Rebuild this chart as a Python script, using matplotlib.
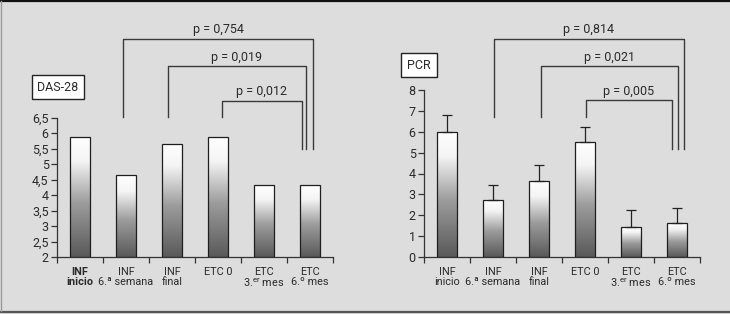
import matplotlib
matplotlib.use('Agg')
import matplotlib.pyplot as plt
import numpy as np
from matplotlib import transforms
from matplotlib.colors import LinearSegmentedColormap
from matplotlib.lines import Line2D
from matplotlib.patches import Rectangle

FONT = ['Roboto', 'DejaVu Sans']
plt.rcParams['font.family'] = FONT
plt.rcParams['mathtext.fontset'] = 'custom'
plt.rcParams['mathtext.rm'] = 'Roboto'
plt.rcParams['mathtext.it'] = 'Roboto:italic'
plt.rcParams['mathtext.bf'] = 'Roboto:bold'

# ---------------- data ----------------
categories = ['INF\ninicio', 'INF\n6.ª semana', 'INF\nfinal', 'ETC 0',
              'ETC\n3.$^{\\mathrm{er}}$ mes', 'ETC\n6.º mes']

das28_values = [5.88, 4.65, 5.66, 5.88, 4.32, 4.32]
das28_yticks = [2, 2.5, 3, 3.5, 4, 4.5, 5, 5.5, 6, 6.5]
das28_yticklabels = ['2', '2,5', '3', '3,5', '4', '4,5', '5', '5,5', '6', '6,5']
das28_pairs = [(1, 5), (2, 5), (3, 5)]
das28_pvals = ['p = 0,754', 'p = 0,019', 'p = 0,012']

pcr_values = [6.0, 2.75, 3.62, 5.5, 1.46, 1.65]
pcr_errors = [0.78, 0.72, 0.78, 0.72, 0.77, 0.68]
pcr_yticks = [0, 1, 2, 3, 4, 5, 6, 7, 8]
pcr_yticklabels = ['0', '1', '2', '3', '4', '5', '6', '7', '8']
pcr_pairs = [(1, 5), (2, 5), (3, 5)]
pcr_pvals = ['p = 0,814', 'p = 0,021', 'p = 0,005']

# ---------------- layout ----------------
W, H = 730, 314
BG = '#dddddd'
TXT = '#2a2a2a'
LINE = '#333333'

fig = plt.figure(figsize=(W / 100, H / 100), dpi=100, facecolor=BG)

def fx(px):
    return px / W

def fy(py):
    return 1 - py / H

cmap = LinearSegmentedColormap.from_list(
    'barg', [(0.0, '#595959'), (0.45, '#9c9c9c'), (0.8, '#f4f4f4'), (1.0, '#ffffff')])

BAR_W = 0.45


def make_axes(left_px, right_px, top_px, bottom_px):
    ax = fig.add_axes([fx(left_px), fy(bottom_px), (right_px - left_px) / W,
                       (bottom_px - top_px) / H])
    ax.set_facecolor('none')
    for s in ('top', 'right'):
        ax.spines[s].set_visible(False)
    for s in ('left', 'bottom'):
        ax.spines[s].set_color(LINE)
        ax.spines[s].set_linewidth(0.9)
    return ax


def draw_bars(ax, values, ymin):
    x = np.arange(len(values))
    heights = np.array(values) - ymin
    bars = ax.bar(x, heights, BAR_W, bottom=ymin, color='none',
                  edgecolor='#1e1e1e', linewidth=0.9, zorder=3)
    grad = np.linspace(1, 0, 256).reshape(-1, 1)
    for b in bars:
        x0, y0 = b.get_x(), b.get_y()
        w, h = b.get_width(), b.get_height()
        im = ax.imshow(grad, extent=(x0, x0 + w, y0, y0 + h), origin='upper',
                       cmap=cmap, vmin=0, vmax=1, aspect='auto', zorder=2,
                       interpolation='bilinear')
        im.set_clip_path(b)
    return bars


def style_axes(ax, yticks, ylabels, ylim, bold_first=False):
    n = len(categories)
    ax.set_xlim(-0.5, n - 0.5)
    ax.set_ylim(*ylim)
    ax.set_yticks(yticks)
    ax.set_yticklabels(ylabels)
    ax.set_xticks(np.arange(-0.5, n, 1.0))
    ax.set_xticklabels([])
    ax.set_xticks(np.arange(n), minor=True)
    ax.set_xticklabels(categories, minor=True)
    ax.tick_params(axis='x', which='major', direction='out', length=4.5,
                   width=0.9, color=LINE)
    ax.tick_params(axis='x', which='minor', length=0, pad=7,
                   labelsize=7.8, labelcolor=TXT)
    ax.tick_params(axis='y', direction='out', length=4.5, width=0.9,
                   color=LINE, pad=1.5, labelsize=9, labelcolor=TXT)
    for t in ax.get_xticklabels(minor=True):
        t.set_linespacing(1.0)
    if bold_first:
        ax.get_xticklabels(minor=True)[0].set_fontweight('bold')


def bracket(ax, xl, xr, top_px, left_px, right_px, text, text_px):
    tr = transforms.blended_transform_factory(ax.transData, fig.transFigure)
    ax.add_line(Line2D([xl, xl, xr, xr],
                       [fy(left_px), fy(top_px), fy(top_px), fy(right_px)],
                       transform=tr, color='#3a3a3a', lw=1.0, clip_on=False))
    ax.text((xl + xr) / 2, fy(text_px), text, transform=tr, ha='center',
            va='center', fontsize=9, color=TXT)


def label_box(x0, x1, y0, y1, text):
    fig.patches.append(Rectangle((fx(x0), fy(y1)), (x1 - x0) / W, (y1 - y0) / H,
                                 transform=fig.transFigure, facecolor='white',
                                 edgecolor='#222222', linewidth=1.0))
    fig.text(fx((x0 + x1) / 2), fy((y0 + y1) / 2), text, ha='center',
             va='center', fontsize=9, color=TXT)


# ---------------- left: DAS-28 ----------------
ax1 = make_axes(57, 333, 118, 257)
draw_bars(ax1, das28_values, das28_yticks[0])
style_axes(ax1, das28_yticks, das28_yticklabels,
           (das28_yticks[0], das28_yticks[-1]), bold_first=True)
left_off = [-0.065, -0.087, 0.087]
right_off = [0.065, -0.087, -0.174]
tops = [39, 66, 101]
texts_y = [29, 57, 92]
for (a, b), p, lo, ro, tp, ty in zip(das28_pairs, das28_pvals, left_off,
                                     right_off, tops, texts_y):
    bracket(ax1, a + lo, b + ro, tp, 117, 149, p, ty)
label_box(32, 84, 75, 99, 'DAS-28')

# ---------------- right: PCR ----------------
ax2 = make_axes(424, 700, 90, 257)
draw_bars(ax2, pcr_values, pcr_yticks[0])
ax2.errorbar(np.arange(len(pcr_values)), pcr_values,
             yerr=[np.zeros(len(pcr_errors)), pcr_errors], fmt='none',
             ecolor='#222222', elinewidth=0.9, capsize=3.5, capthick=0.9,
             zorder=4)
style_axes(ax2, pcr_yticks, pcr_yticklabels,
           (pcr_yticks[0], pcr_yticks[-1]))
left_off2 = [0.02, 0.04, 0.02]
right_off2 = [0.15, 0.02, -0.11]
tops2 = [39, 66, 100]
for (a, b), p, lo, ro, tp, ty in zip(pcr_pairs, pcr_pvals, left_off2,
                                     right_off2, tops2, texts_y):
    bracket(ax2, a + lo, b + ro, tp, 117, 149, p, ty)
label_box(401, 437, 53, 77, 'PCR')

# ---------------- frame ----------------
fig.add_artist(Line2D([0, 1], [fy(0.8), fy(0.8)], transform=fig.transFigure,
                      color='#111111', lw=1.6))
fig.add_artist(Line2D([0, 1], [fy(312), fy(312)], transform=fig.transFigure,
                      color='#555555', lw=1.6))
fig.add_artist(Line2D([fx(1.5), fx(1.5)], [fy(1), fy(311)],
                      transform=fig.transFigure, color='#9a9a9a', lw=1.0))

fig.savefig('out.png', dpi=100, facecolor=BG)
